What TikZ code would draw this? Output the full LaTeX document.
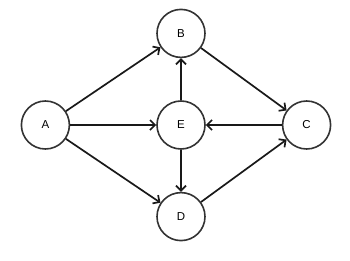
\documentclass[tikz,border=0pt]{standalone}
\usepackage{fontspec}
\setmainfont{Liberation Sans}
\usetikzlibrary{positioning}
\usetikzlibrary{arrows.meta}
\definecolor{ringgray}{HTML}{333333}

\begin{document}
\begin{tikzpicture}[
	v/.style={circle, draw=ringgray, fill=white, line width=1.6pt, minimum size=48pt, inner sep=0pt, font=\fontsize{11.5}{13}\selectfont},
	e/.style={-{Straight Barb[length=5pt, width=10pt, line width=1.7pt]}, line width=1.7pt, black!90},
	]
	\useasboundingbox (-181pt,-135pt) rectangle (169pt,125pt);
	
	%Nodes
	\node[v]    (e)                           {E};
	\node[v]    (b)     [above = 42pt of e]   {B};
	\node[v]    (d)     [below = 42pt of e]   {D};
	\node[v]    (a)     [left = 86pt of e]    {A};
	\node[v]    (c)     [right = 76pt of e]   {C};
	
	%Lines
	\draw[e] (a) to (b);
	\draw[e] (a) to (e);
	\draw[e] (a) to (d);
	\draw[e] (b) to (c);
	\draw[e] (d) to (c);
	\draw[e] (e) to (b);
	\draw[e] (e) to (d);
	\draw[e] (c) to (e);
\end{tikzpicture}
\end{document}
